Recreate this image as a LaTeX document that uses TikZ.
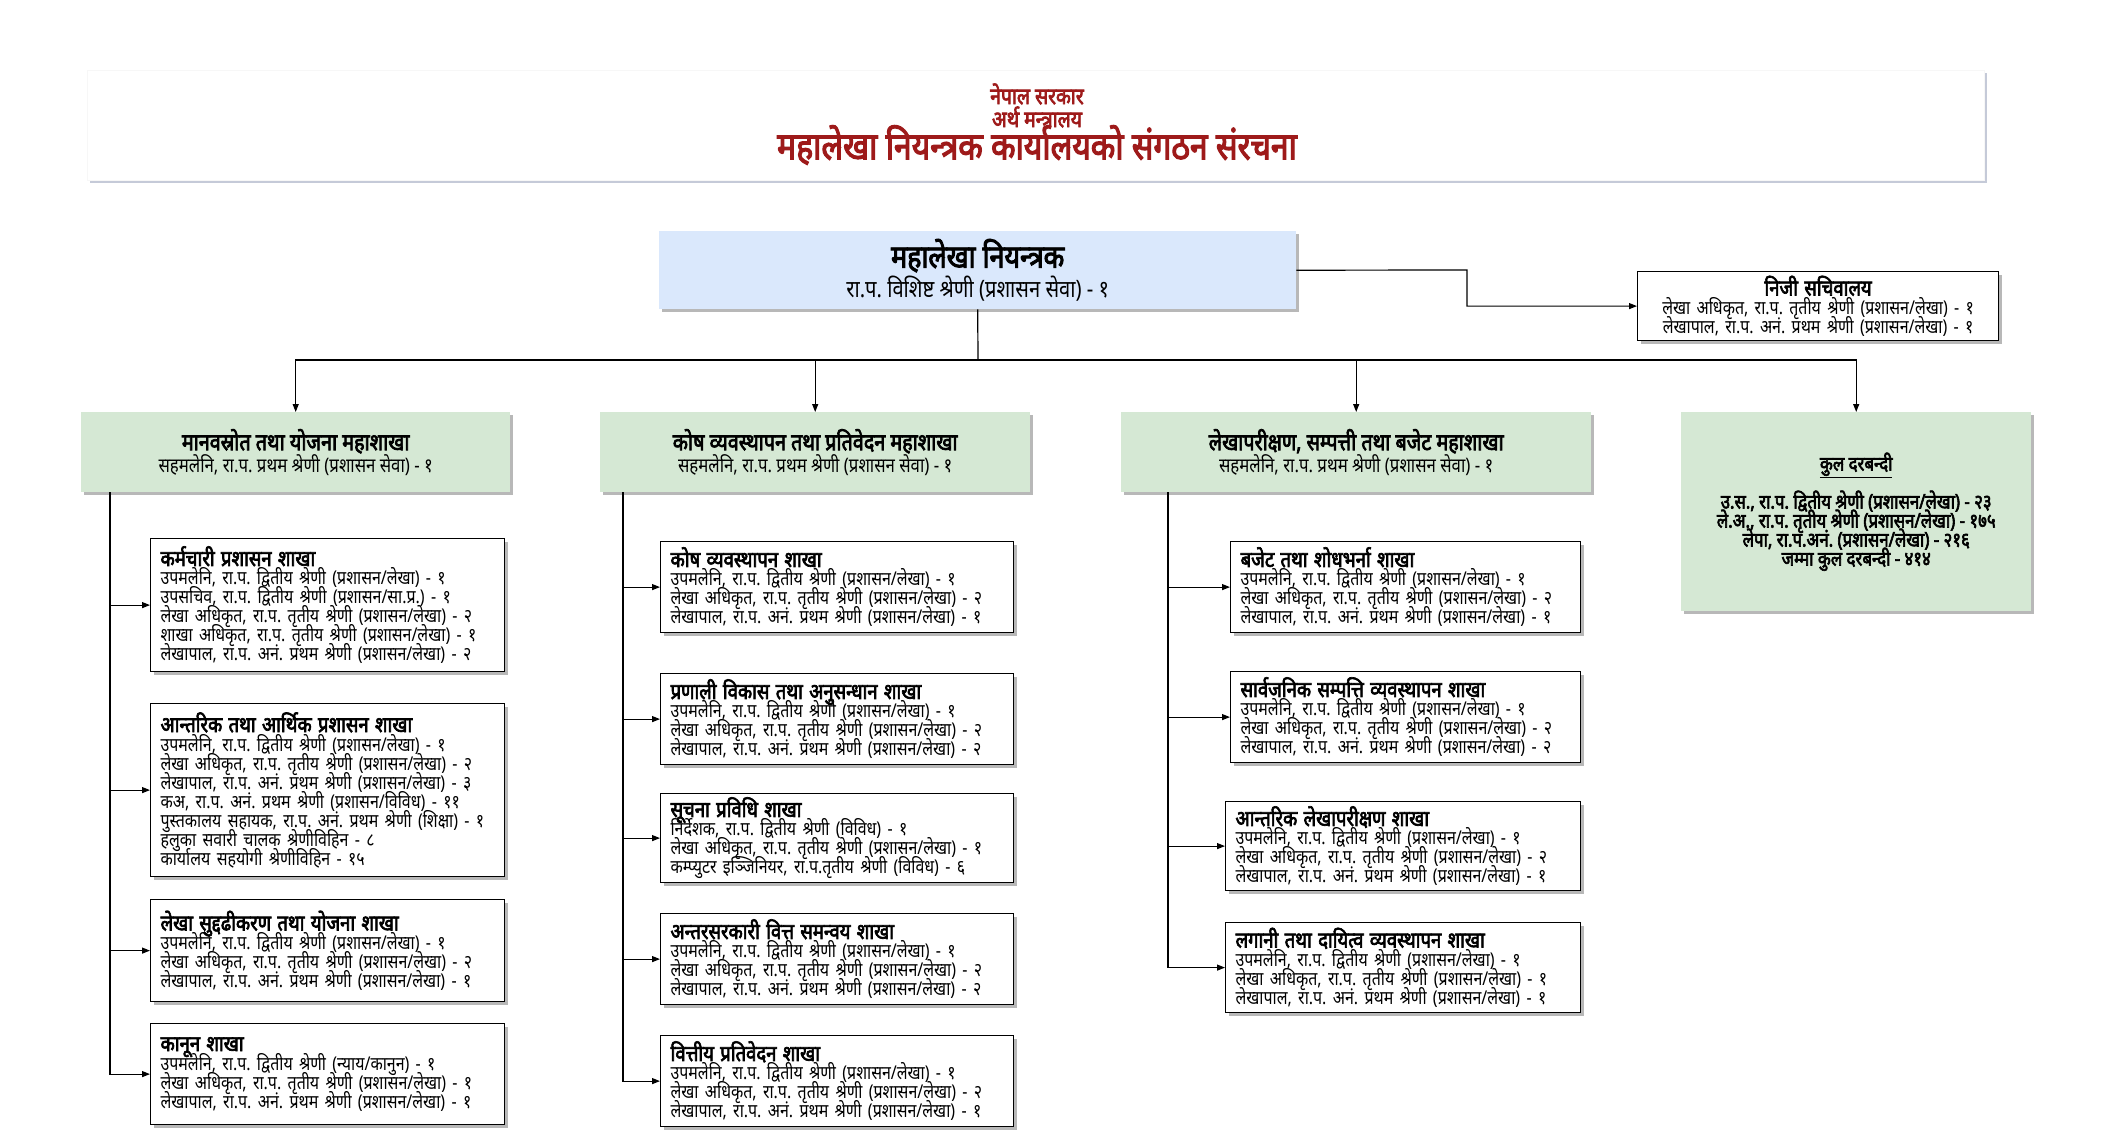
\documentclass[tikz,border=0pt]{standalone}
\usepackage{fontspec}
\setmainfont{Noto Sans}[Script=Devanagari,FakeStretch=0.84,BoldFont={Noto Sans},BoldFeatures={FakeBold=3}]
\usetikzlibrary{arrows.meta,shadows}
\definecolor{hblue}{HTML}{DAE8FC}
\definecolor{hgreen}{HTML}{D5E8D4}
\definecolor{tred}{HTML}{9E1A1A}
\definecolor{shgray}{HTML}{C5CAD8}
\newcommand{\sthree}[3]{उपमलेनि, रा.प. द्वितीय श्रेणी (प्रशासन/लेखा) - #1\\लेखा अधिकृत, रा.प. तृतीय श्रेणी (प्रशासन/लेखा) - #2\\लेखापाल, रा.प. अनं. प्रथम श्रेणी (प्रशासन/लेखा) - #3}
\newcommand{\btitle}[1]{{\fontsize{22}{19}\selectfont\bfseries #1}}
\frenchspacing
\lineskiplimit=-100pt
\lineskip=0pt
\tikzset{
  tight/.style={execute at begin node={\lineskiplimit=-100pt\lineskip=0pt\baselineskip=19pt}},
  sh/.style={drop shadow={shadow xshift=3pt,shadow yshift=-3pt,fill=black,opacity=0.28}},
  bx/.style={draw=black,line width=1.2pt,fill=white,sh,align=left,inner xsep=9pt,inner ysep=2pt,anchor=north west,font=\fontsize{19}{19}\selectfont,tight},
  hd/.style={fill=hgreen,sh,align=center,anchor=north west,inner sep=0pt,font=\fontsize{20}{22}\selectfont},
  conn/.style={line width=1.2pt,draw=black},
  arr/.style={conn,-{Triangle[length=8pt,width=6pt]}},
}
\begin{document}
\begin{tikzpicture}[x=1pt,y=-1pt]
\useasboundingbox (0,0) rectangle (2104,1136);
% header
\node[fill=white,draw=black!3,anchor=north west,minimum width=1897pt,minimum height=110pt,inner sep=0pt,
      drop shadow={shadow xshift=3pt,shadow yshift=-3pt,fill=shgray,opacity=1}] (hdr) at (87,70) {};
\node[text=tred,font=\fontsize{23}{19}\selectfont\bfseries] (t1) at (1037,94) {नेपाल सरकार};
\node[text=tred,font=\fontsize{23}{19}\selectfont\bfseries] (t2) at (1037,117) {अर्थ मन्त्रालय};
\node[text=tred,font=\fontsize{38}{32}\selectfont\bfseries] (t3) at (1037,145) {महालेखा नियन्त्रक कार्यालयको संगठन संरचना};
% top
\node[fill=hblue,sh,anchor=north west,minimum width=637pt,minimum height=78pt,inner sep=0pt,align=center,font=\fontsize{24}{30}\selectfont] (top) at (659,231)
  {{\fontsize{32}{30}\selectfont\bfseries महालेखा नियन्त्रक}\\रा.प. विशिष्ट श्रेणी (प्रशासन सेवा) - १};
\node[bx,align=center,minimum width=361pt,minimum height=69pt,text width=341pt] (priv) at (1637,271)
  {\btitle{निजी सचिवालय}\\लेखा अधिकृत, रा.प. तृतीय श्रेणी (प्रशासन/लेखा) - १\\लेखापाल, रा.प. अनं. प्रथम श्रेणी (प्रशासन/लेखा) - १};
% headers
\node[hd,minimum width=429pt,minimum height=80pt] (h1) at (81,412)
  {{\fontsize{23.5}{22}\selectfont\bfseries मानवस्रोत तथा योजना महाशाखा}\\सहमलेनि, रा.प. प्रथम श्रेणी (प्रशासन सेवा) - १};
\node[hd,minimum width=430pt,minimum height=80pt] (h2) at (600,412)
  {{\fontsize{23.5}{22}\selectfont\bfseries कोष व्यवस्थापन तथा प्रतिवेदन महाशाखा}\\सहमलेनि, रा.प. प्रथम श्रेणी (प्रशासन सेवा) - १};
\node[hd,minimum width=470pt,minimum height=80pt] (h3) at (1121,412)
  {{\fontsize{23.5}{22}\selectfont\bfseries लेखापरीक्षण, सम्पत्ती तथा बजेट महाशाखा}\\सहमलेनि, रा.प. प्रथम श्रेणी (प्रशासन सेवा) - १};
\node[hd,minimum width=350pt,minimum height=199pt,font=\fontsize{20}{19}\selectfont\bfseries] (tot) at (1681,412)
  {\underline{कुल दरबन्दी}\\[19pt]उ.स., रा.प. द्वितीय श्रेणी (प्रशासन/लेखा) - २३\\ले.अ., रा.प. तृतीय श्रेणी (प्रशासन/लेखा) - १७५\\लेपा, रा.प.अनं. (प्रशासन/लेखा) - २१६\\जम्मा कुल दरबन्दी - ४१४};
% column 1
\node[bx,minimum width=354pt,minimum height=133pt,text width=334pt] (b1) at (150,538)
  {\btitle{कर्मचारी प्रशासन शाखा}\\उपमलेनि, रा.प. द्वितीय श्रेणी (प्रशासन/लेखा) - १\\उपसचिव, रा.प. द्वितीय श्रेणी (प्रशासन/सा.प्र.) - १\\लेखा अधिकृत, रा.प. तृतीय श्रेणी (प्रशासन/लेखा) - २\\शाखा अधिकृत, रा.प. तृतीय श्रेणी (प्रशासन/लेखा) - १\\लेखापाल, रा.प. अनं. प्रथम श्रेणी (प्रशासन/लेखा) - २};
\node[bx,minimum width=354pt,minimum height=173pt,text width=334pt] (b2) at (150,703)
  {\btitle{आन्तरिक तथा आर्थिक प्रशासन शाखा}\\उपमलेनि, रा.प. द्वितीय श्रेणी (प्रशासन/लेखा) - १\\लेखा अधिकृत, रा.प. तृतीय श्रेणी (प्रशासन/लेखा) - २\\लेखापाल, रा.प. अनं. प्रथम श्रेणी (प्रशासन/लेखा) - ३\\कअ, रा.प. अनं. प्रथम श्रेणी (प्रशासन/विविध) - ११\\पुस्तकालय सहायक, रा.प. अनं. प्रथम श्रेणी (शिक्षा) - १\\हलुका सवारी चालक श्रेणीविहिन - ८\\कार्यालय सहयोगी श्रेणीविहिन - १५};
\node[bx,minimum width=354pt,minimum height=102pt,text width=334pt] (b3) at (150,899)
  {\btitle{लेखा सुद्दढीकरण तथा योजना शाखा}\\\sthree{१}{२}{१}};
\node[bx,minimum width=354pt,minimum height=101pt,text width=334pt] (b4) at (150,1023)
  {\btitle{कानून शाखा}\\उपमलेनि, रा.प. द्वितीय श्रेणी (न्याय/कानुन) - १\\लेखा अधिकृत, रा.प. तृतीय श्रेणी (प्रशासन/लेखा) - १\\लेखापाल, रा.प. अनं. प्रथम श्रेणी (प्रशासन/लेखा) - १};
% column 2
\node[bx,minimum width=353pt,minimum height=91pt,text width=333pt] (c1) at (660,541)
  {\btitle{कोष व्यवस्थापन शाखा}\\\sthree{१}{२}{१}};
\node[bx,minimum width=353pt,minimum height=91pt,text width=333pt] (c2) at (660,673)
  {\btitle{प्रणाली विकास तथा अनुसन्धान शाखा}\\\sthree{१}{२}{२}};
\node[bx,minimum width=353pt,minimum height=89pt,text width=333pt] (c3) at (660,793)
  {\btitle{सूचना प्रविधि शाखा}\\निर्देशक, रा.प. द्वितीय श्रेणी (विविध) - १\\लेखा अधिकृत, रा.प. तृतीय श्रेणी (प्रशासन/लेखा) - १\\कम्प्युटर इञ्जिनियर, रा.प.तृतीय श्रेणी (विविध) - ६};
\node[bx,minimum width=353pt,minimum height=91pt,text width=333pt] (c4) at (660,913)
  {\btitle{अन्तरसरकारी वित्त समन्वय शाखा}\\\sthree{१}{२}{२}};
\node[bx,minimum width=353pt,minimum height=91pt,text width=333pt] (c5) at (660,1035)
  {\btitle{वित्तीय प्रतिवेदन शाखा}\\\sthree{१}{२}{१}};
% column 3
\node[bx,minimum width=350pt,minimum height=91pt,text width=330pt] (d1) at (1230,541)
  {\btitle{बजेट तथा शोधभर्ना शाखा}\\\sthree{१}{२}{१}};
\node[bx,minimum width=350pt,minimum height=91pt,text width=330pt] (d2) at (1230,671)
  {\btitle{सार्वजनिक सम्पत्ति व्यवस्थापन शाखा}\\\sthree{१}{२}{२}};
\node[bx,minimum width=355pt,minimum height=89pt,text width=335pt] (d3) at (1225,801)
  {\btitle{आन्तरिक लेखापरीक्षण शाखा}\\\sthree{१}{२}{१}};
\node[bx,minimum width=355pt,minimum height=90pt,text width=335pt] (d4) at (1225,922)
  {\btitle{लगानी तथा दायित्व व्यवस्थापन शाखा}\\\sthree{१}{१}{१}};
% connectors
\coordinate (pb) at (1467,270);
\draw[arr] (top.east) -- (pb) |- (priv.west);
\coordinate (jn) at (978,360);
\draw[conn] (top.south) -- (jn);
\draw[arr] (jn) -| (h1.north);
\draw[arr] (jn) -| (h2.north);
\draw[arr] (jn) -| (h3.north);
\draw[arr] (jn) -| (tot.north);
\coordinate (v1) at (110,492);
\coordinate (v2) at (623,492);
\coordinate (v3) at (1168,492);
\foreach \b in {b1,b2,b3,b4} \draw[arr] (v1) |- (\b.west);
\foreach \b in {c1,c2,c3,c4,c5} \draw[arr] (v2) |- (\b.west);
\foreach \b in {d1,d2,d3,d4} \draw[arr] (v3) |- (\b.west);
\end{tikzpicture}
\end{document}
